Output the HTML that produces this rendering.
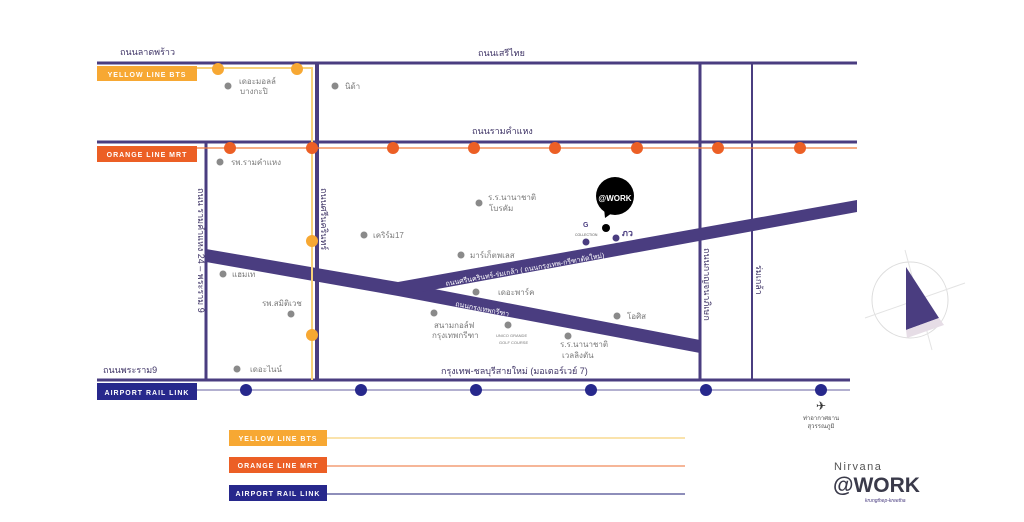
<!DOCTYPE html>
<html><head><meta charset="utf-8"><style>
html,body{margin:0;padding:0;background:#fff;}
svg{display:block;}
text{font-family:"Liberation Sans","Noto Sans CJK SC",sans-serif;}
.t{font-size:8px;fill:#7a7a7a;}
.r{font-size:9px;fill:#3f3466;}
.b{font-size:7px;fill:#fff;font-weight:bold;letter-spacing:1px;}
</style></head><body>
<svg width="1024" height="522" viewBox="0 0 1024 522" xmlns="http://www.w3.org/2000/svg">
<rect width="1024" height="522" fill="#fff"/>
<!-- roads -->
<g stroke="#4a3d80" stroke-width="3" fill="none">
<line x1="97" y1="63" x2="857" y2="63"/>
<line x1="97" y1="142" x2="857" y2="142"/>
<line x1="97" y1="380" x2="850" y2="380"/>
<line x1="317" y1="63" x2="317" y2="380" stroke-width="4"/>
<line x1="206" y1="142" x2="206" y2="380"/>
<line x1="700" y1="63" x2="700" y2="380"/>
<line x1="752" y1="63" x2="752" y2="380" stroke-width="2"/>
</g>
<polygon points="206,249 398,282 700,340 700,353 398,296 206,262" fill="#4a3d80"/>
<polygon points="398,282 857,200 857,212 410,294 398,296" fill="#4a3d80"/>
<!-- lines -->
<polyline points="197,68 312,68 312,380" stroke="#f8d27a" stroke-width="2" fill="none"/>
<line x1="197" y1="148" x2="857" y2="148" stroke="#f07a3a" stroke-width="1.2"/>
<line x1="197" y1="390" x2="850" y2="390" stroke="#9a96c0" stroke-width="1.5"/>
<!-- boxes -->
<rect x="97" y="66" width="100" height="15" fill="#f7a833"/><text x="147" y="77" class="b" text-anchor="middle">YELLOW LINE BTS</text>
<rect x="97" y="146" width="100" height="16" fill="#ec5f25"/><text x="147" y="157" class="b" text-anchor="middle">ORANGE LINE MRT</text>
<rect x="97" y="383" width="100" height="17" fill="#27288c"/><text x="147" y="395" class="b" text-anchor="middle">AIRPORT RAIL LINK</text>
<!-- dots -->
<g fill="#f7a833"><circle cx="218" cy="69" r="6"/><circle cx="297" cy="69" r="6"/><circle cx="312" cy="241" r="6"/><circle cx="312" cy="335" r="6"/></g>
<g fill="#ec5f25"><circle cx="230" cy="148" r="6"/><circle cx="312" cy="148" r="6"/><circle cx="393" cy="148" r="6"/><circle cx="474" cy="148" r="6"/><circle cx="555" cy="148" r="6"/><circle cx="637" cy="148" r="6"/><circle cx="718" cy="148" r="6"/><circle cx="800" cy="148" r="6"/></g>
<g fill="#27288c"><circle cx="246" cy="390" r="6"/><circle cx="361" cy="390" r="6"/><circle cx="476" cy="390" r="6"/><circle cx="591" cy="390" r="6"/><circle cx="706" cy="390" r="6"/><circle cx="821" cy="390" r="6"/></g>
<!-- road labels -->
<text x="120" y="55" class="r">ถนนลาดพร้าว</text>
<text x="478" y="56" class="r">ถนนเสรีไทย</text>
<text x="472" y="134" class="r">ถนนรามคำแหง</text>
<text x="103" y="373" class="r">ถนนพระราม9</text>
<text x="441" y="374" class="r">กรุงเทพ-ชลบุรีสายใหม่ (มอเตอร์เวย์ 7)</text>
<text class="r" transform="translate(198,188) rotate(90)">ถนน รามคำแหง 24 – พระราม 9</text>
<text class="r" transform="translate(321,188) rotate(90)">ถนนศรีนครินทร์</text>
<text class="r" transform="translate(704,248) rotate(90)">ถนนกาญจนาภิเษก</text>
<text class="r" transform="translate(756,265) rotate(90)">ร่มเกล้า</text>
<text x="0" y="0" font-size="7" fill="#fff" transform="translate(446,286) rotate(-10.2)">ถนนศรีนครินทร์-ร่มเกล้า ( ถนนกรุงเทพ-กรีฑาตัดใหม่)</text>
<text x="0" y="0" font-size="7" fill="#fff" transform="translate(455,306) rotate(11)">ถนนกรุงเทพกรีฑา</text>
<!-- POIs -->
<g fill="#8a8a8a">
<circle cx="228" cy="86" r="3.5"/><circle cx="335" cy="86" r="3.5"/><circle cx="220" cy="162" r="3.5"/><circle cx="479" cy="203" r="3.5"/><circle cx="364" cy="235" r="3.5"/><circle cx="461" cy="255" r="3.5"/><circle cx="223" cy="274" r="3.5"/><circle cx="476" cy="292" r="3.5"/><circle cx="291" cy="314" r="3.5"/><circle cx="434" cy="313" r="3.5"/><circle cx="508" cy="325" r="3.5"/><circle cx="568" cy="336" r="3.5"/><circle cx="617" cy="316" r="3.5"/><circle cx="237" cy="369" r="3.5"/>
</g>
<g class="t">
<text x="239" y="84" class="t">เดอะมอลล์</text><text x="240" y="94" class="t">บางกะปิ</text>
<text x="345" y="89" class="t">นิด้า</text>
<text x="231" y="165" class="t">รพ.รามคำแหง</text>
<text x="488" y="200" class="t">ร.ร.นานาชาติ</text><text x="489" y="211" class="t">โบรคัม</text>
<text x="373" y="238" class="t">เคริร์ม17</text>
<text x="470" y="258" class="t">มาร์เก็ตพเลส</text>
<text x="232" y="277" class="t">แฮมเท</text>
<text x="498" y="295" class="t">เดอะพาร์ค</text>
<text x="262" y="306" class="t">รพ.สมิติเวช</text>
<text x="434" y="328" class="t">สนามกอล์ฟ</text><text x="432" y="338" class="t">กรุงเทพกรีฑา</text>
<text x="496" y="337" font-size="4" fill="#777">UNICO GRANDE</text><text x="499" y="344" font-size="4" fill="#777">GOLF COURSE</text>
<text x="560" y="347" class="t">ร.ร.นานาชาติ</text><text x="562" y="358" class="t">เวลลิงตัน</text>
<text x="627" y="319" class="t">โอศิส</text>
<text x="250" y="372" class="t">เดอะไนน์</text>
</g>
<!-- nirvana bubble -->
<circle cx="615" cy="196" r="19" fill="#000"/>
<polygon points="604,208 612,213 605,218" fill="#000"/>
<text x="615" y="201" font-size="8" font-weight="bold" fill="#fff" text-anchor="middle">@WORK</text>
<circle cx="606" cy="228" r="4" fill="#000"/>
<circle cx="586" cy="242" r="3.5" fill="#4a3d80"/><circle cx="616" cy="238" r="3.5" fill="#4a3d80"/>
<text x="583" y="227" font-size="7" font-weight="bold" fill="#4a3d80">G</text>
<text x="575" y="236" font-size="3.5" fill="#555">COLLECTION</text>
<text x="622" y="236" font-size="9" font-weight="bold" fill="#4a3d80">ภว</text>
<!-- airport -->
<text x="821" y="410" font-size="12" fill="#333" text-anchor="middle">✈</text>
<text x="821" y="420" font-size="6" fill="#555" text-anchor="middle">ท่าอากาศยาน</text>
<text x="821" y="428" font-size="6" fill="#555" text-anchor="middle">สุวรรณภูมิ</text>
<!-- compass -->
<circle cx="910" cy="300" r="38" fill="none" stroke="#ddd" stroke-width="1"/>
<line x1="905" y1="250" x2="932" y2="350" stroke="#e3e3e3"/>
<line x1="865" y1="318" x2="965" y2="283" stroke="#e3e3e3"/>
<polygon points="906,267 939,318 906,330" fill="#4a3d80"/>
<polygon points="906,330 939,318 944,325 907,338" fill="#e6dde6"/>
<!-- legend -->
<rect x="229" y="430" width="98" height="16" fill="#f7a833"/><text x="278" y="441" class="b" text-anchor="middle">YELLOW LINE BTS</text>
<line x1="327" y1="438" x2="685" y2="438" stroke="#f8d27a" stroke-width="1.2"/>
<rect x="229" y="457" width="98" height="16" fill="#ec5f25"/><text x="278" y="468" class="b" text-anchor="middle">ORANGE LINE MRT</text>
<line x1="327" y1="466" x2="685" y2="466" stroke="#f08a5a" stroke-width="1.2"/>
<rect x="229" y="485" width="98" height="16" fill="#27288c"/><text x="278" y="496" class="b" text-anchor="middle">AIRPORT RAIL LINK</text>
<line x1="327" y1="494" x2="685" y2="494" stroke="#4a4a90" stroke-width="1.2"/>
<!-- logo -->
<text x="834" y="470" font-size="11" fill="#555" letter-spacing="1.5">Nirvana</text>
<text x="833" y="492" font-size="21" font-weight="bold" fill="#3a3a4a">@WORK</text>
<text x="865" y="502" font-size="5" font-style="italic" fill="#4a3d80">krungthep-kreetha</text>
</svg>
</body></html>
